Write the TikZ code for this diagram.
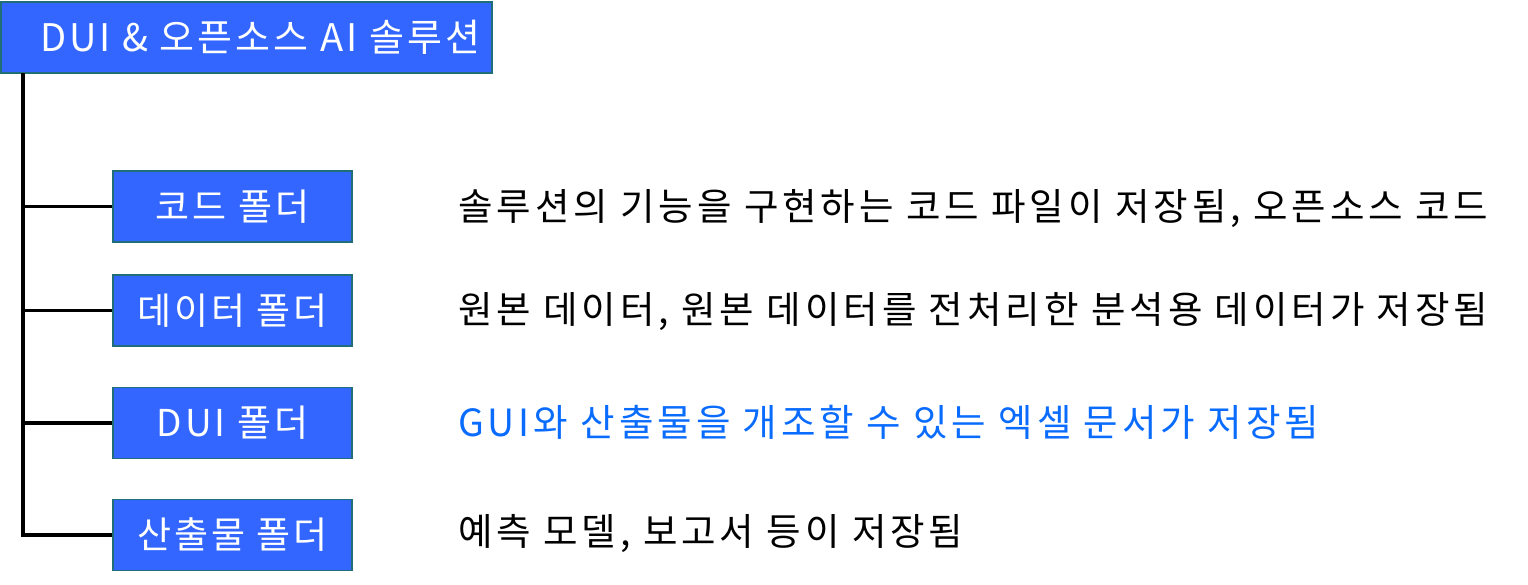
\documentclass[tikz,border=0pt]{standalone}
\usepackage{fontspec}
\setmainfont[LetterSpace=8]{Noto Sans CJK KR}
\newfontfamily\descfont[LetterSpace=10.5]{Noto Sans CJK KR}
\definecolor{boxfill}{HTML}{3366FF}
\definecolor{boxline}{HTML}{1F6E78}
\definecolor{bluetext}{HTML}{0A6CFF}
\begin{document}
\begin{tikzpicture}[x=1pt,y=-1pt,
  folder/.style={draw=boxline,line width=1.5pt,fill=boxfill,minimum width=239pt,minimum height=71pt,inner sep=0pt,text=white,font=\fontsize{37}{44}\selectfont},
  desc/.style={anchor=west,inner sep=0pt,font=\descfont\fontsize{37.5}{44}\selectfont},
  link/.style={line width=3.5pt}]
\useasboundingbox (0,0) rectangle (1528,585);
\node[folder,minimum width=491pt,minimum height=71pt] (top) at (246.5,37.5) {};
\node[anchor=west,inner sep=0pt,text=white,font=\fontsize{38}{44}\selectfont] (title) at (40,37.5) {DUI \& 오픈소스 AI 솔루션};
\node[folder] (f1) at (232.5,206.5) {코드 폴더};
\node[folder] (f2) at (232.5,310.5) {데이터 폴더};
\node[folder] (f3) at (232.5,423) {DUI 폴더\hspace{12pt}};
\node[folder] (f4) at (232.5,535) {산출물 폴더};
\coordinate (trunk) at (23,73);
\draw[link] (trunk) |- (f4.west);
\draw[link] (trunk |- f1.west) -- (f1.west);
\draw[link] (trunk |- f2.west) -- (f2.west);
\draw[link] (trunk |- f3.west) -- (f3.west);
\node[desc] (d1) at (458,209) {솔루션의 기능을 구현하는 코드 파일이 저장됨, 오픈소스 코드};
\node[desc] (d2) at (458,312) {원본 데이터, 원본 데이터를 전처리한 분석용 데이터가 저장됨};
\node[desc,text=bluetext] (d3) at (458,422) {GUI와 산출물을 개조할 수 있는 엑셀 문서가 저장됨};
\node[desc] (d4) at (458,534) {예측 모델, 보고서 등이 저장됨};
\end{tikzpicture}
\end{document}
